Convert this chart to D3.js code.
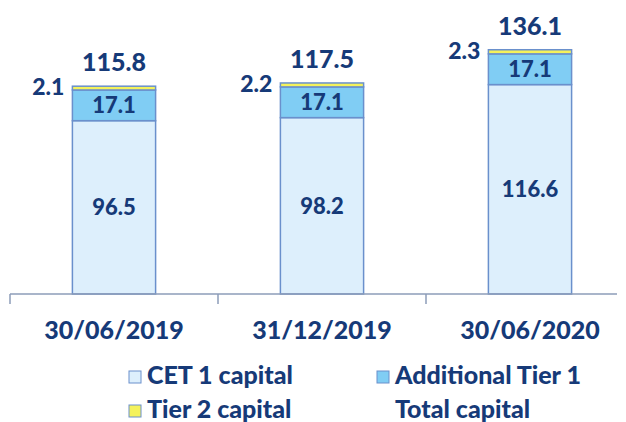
<!DOCTYPE html>
<html>
<head>
<meta charset="utf-8">
<script src="https://cdn.jsdelivr.net/npm/d3@7"></script>
<style>
  body { margin: 0; background: #fff; }
  svg text { font-family: "Lato", "Open Sans", sans-serif; font-weight: 900; fill: #163a78; }
</style>
</head>
<body>
<div id="chart"></div>
<script>
// data
const dates = ["30/06/2019", "31/12/2019", "30/06/2020"];
const cet1 = [96.5, 98.2, 116.6];
const at1 = [17.1, 17.1, 17.1];
const tier2 = [2.1, 2.2, 2.3];
const total = [115.8, 117.5, 136.1];

const seriesNames = ["CET 1 capital", "Additional Tier 1", "Tier 2 capital", "Total capital"];
const seriesColors = ["#ddeffc", "#80cdf4", "#f4f25c", null];

const W = 626, H = 422;
const baseY = 294;

const svg = d3.select("#chart")
    .append("svg")
    .attr("width", W)
    .attr("height", H);

// scales
const x = d3.scaleBand()
    .domain(dates)
    .range([10, 634])
    .paddingInner(0.6)
    .paddingOuter(0.3);

const y = d3.scaleLinear()
    .domain([0, 160])
    .range([baseY, baseY - 160 * 1.796]);

// stack the three pieces
const rows = dates.map((d, i) => ({ date: d, cet1: cet1[i], at1: at1[i], tier2: tier2[i] }));
const stack = d3.stack().keys(["cet1", "at1", "tier2"]);
const layers = stack(rows);

const layer = svg.selectAll(".layer")
    .data(layers)
    .enter()
    .append("g")
    .attr("class", "layer")
    .attr("fill", (d, i) => seriesColors[i]);

layer.selectAll("rect")
    .data(d => d)
    .enter()
    .append("rect")
    .attr("x", d => x(d.data.date))
    .attr("width", x.bandwidth())
    .attr("y", d => y(d[1]))
    .attr("height", d => y(d[0]) - y(d[1]))
    .attr("stroke", "#6a90cc")
    .attr("stroke-width", 1.5);

// axis line + ticks at the band edges
const step = x.step();
const x0 = x.range()[0];
svg.append("line")
    .attr("x1", x0).attr("x2", 617)
    .attr("y1", baseY).attr("y2", baseY)
    .attr("stroke", "#8c9cb8")
    .attr("stroke-width", 1.5);

svg.selectAll(".tick-line")
    .data(dates)
    .enter()
    .append("line")
    .attr("x1", (d, i) => x0 + i * step)
    .attr("x2", (d, i) => x0 + i * step)
    .attr("y1", baseY)
    .attr("y2", baseY + 10)
    .attr("stroke", "#8c9cb8")
    .attr("stroke-width", 1.5);

// category labels
svg.selectAll(".cat-label")
    .data(dates)
    .enter()
    .append("text")
    .attr("x", d => x(d) + x.bandwidth() / 2)
    .attr("y", 339)
    .attr("text-anchor", "middle")
    .style("font-size", "25px")
    .text(d => d);

// value labels inside the bars
const cx = d => x(d.data.date) + x.bandwidth() / 2;
svg.selectAll(".cet-label")
    .data(layers[0])
    .enter()
    .append("text")
    .attr("x", cx)
    .attr("y", d => (y(d[0]) + y(d[1])) / 2)
    .attr("dy", "0.36em")
    .attr("text-anchor", "middle")
    .style("font-size", "22px")
    .text(d => d.data.cet1.toFixed(1));

svg.selectAll(".at1-label")
    .data(layers[1])
    .enter()
    .append("text")
    .attr("x", cx)
    .attr("y", d => (y(d[0]) + y(d[1])) / 2)
    .attr("dy", "0.36em")
    .attr("text-anchor", "middle")
    .style("font-size", "22px")
    .text(d => d.data.at1.toFixed(1));

// tier 2 label sits left of the bar
svg.selectAll(".t2-label")
    .data(layers[2])
    .enter()
    .append("text")
    .attr("x", d => x(d.data.date) - 8)
    .attr("y", d => y(d[1]))
    .attr("dy", "0.4em")
    .attr("text-anchor", "end")
    .style("font-size", "23px")
    .text(d => d.data.tier2.toFixed(1));

// totals above
svg.selectAll(".total-label")
    .data(dates)
    .enter()
    .append("text")
    .attr("x", d => x(d) + x.bandwidth() / 2)
    .attr("y", (d, i) => y(total[i]) - 15)
    .attr("text-anchor", "middle")
    .style("font-size", "25px")
    .text((d, i) => total[i].toFixed(1));

// legend
const legendPos = [[129, 384], [377, 384], [129, 418], [377, 418]];
const legend = svg.selectAll(".legend")
    .data(seriesNames)
    .enter()
    .append("g")
    .attr("class", "legend")
    .attr("transform", (d, i) => `translate(${legendPos[i][0]}, ${legendPos[i][1]})`);

legend.filter((d, i) => seriesColors[i])
    .append("rect")
    .attr("x", 0)
    .attr("y", -13)
    .attr("width", 12)
    .attr("height", 12)
    .attr("fill", d => seriesColors[seriesNames.indexOf(d)])
    .attr("stroke", "#6a90cc")
    .attr("stroke-width", 1);

legend.append("text")
    .attr("x", 18)
    .attr("y", 0)
    .style("font-size", "25px")
    .text(d => d);
</script>
</body>
</html>
